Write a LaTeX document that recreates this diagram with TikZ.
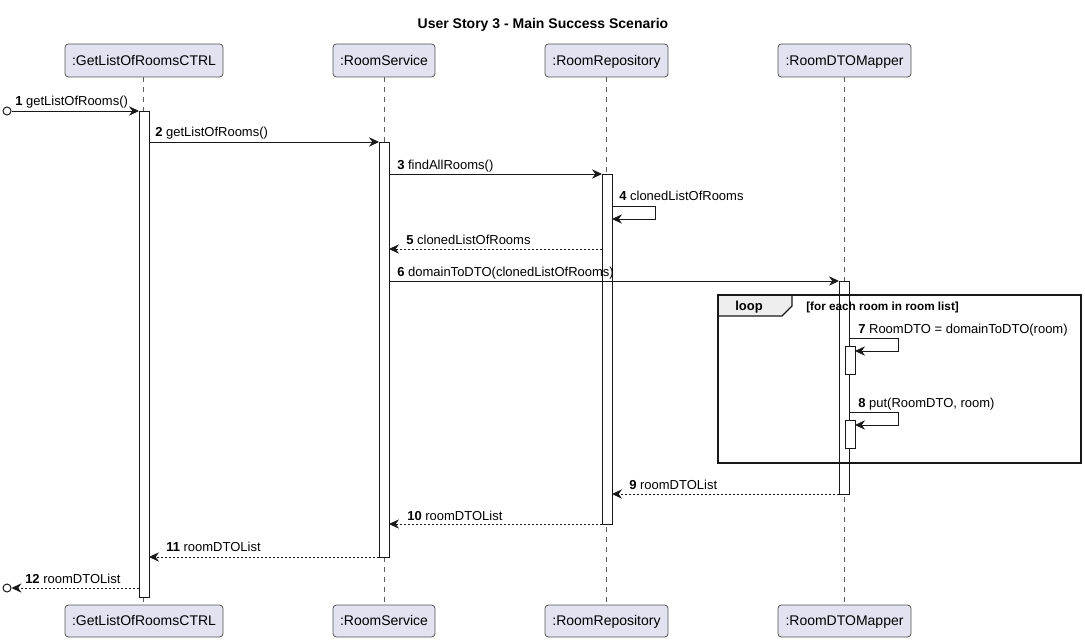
\documentclass[tikz,border=0pt]{standalone}
\usepackage{fontspec}
\setmainfont{Liberation Sans}
\usetikzlibrary{arrows.meta,fit,calc}
\definecolor{partfill}{HTML}{E2E2F0}
\definecolor{linec}{HTML}{181818}
\definecolor{tabfill}{HTML}{EEEEEE}
\begin{document}
\begin{tikzpicture}[x=0.75pt,y=-0.75pt,
 part/.style={draw=linec!75, fill=partfill, rounded corners=2.5pt, inner sep=0, line width=0.6pt, font=\fontsize{10.5}{12}\selectfont, minimum height=24.75pt, text depth=0.5pt},
 life/.style={draw=linec!70, dash pattern=on 3.75pt off 3.75pt, line width=0.5pt},
 act/.style={draw=linec, fill=white, inner sep=0, outer sep=0, line width=0.75pt},
 msg/.style={draw=linec, line width=0.75pt, -{Stealth[length=7.5pt,width=7pt,inset=2.5pt]}},
 ret/.style={msg, dash pattern=on 1.5pt off 1.5pt},
 lbl/.style={anchor=base west, inner sep=0, font=\fontsize{9.75}{11}\selectfont},
 endc/.style={circle, draw=linec, inner sep=0, minimum size=6pt, line width=0.75pt, fill=white},
]
\useasboundingbox (0,0) rectangle (1085,642);

\node[font=\bfseries\fontsize{10.5}{12}\selectfont] (title) at (543,24.5) {User Story 3 - Main Success Scenario};

% participants
\node[part, minimum width=118.5pt] (p1t) at (144,60.5) {:GetListOfRoomsCTRL};
\node[part, minimum width=76.5pt] (p2t) at (384,60.5) {:RoomService};
\node[part, minimum width=92.25pt] (p3t) at (606.5,60.5) {:RoomRepository};
\node[part, minimum width=99.75pt] (p4t) at (844.5,60.5) {:RoomDTOMapper};
\node[part, minimum width=118.5pt, minimum height=24pt] (p1b) at (144,621) {:GetListOfRoomsCTRL};
\node[part, minimum width=76.5pt, minimum height=24pt] (p2b) at (384,621) {:RoomService};
\node[part, minimum width=92.25pt, minimum height=24pt] (p3b) at (606.5,621) {:RoomRepository};
\node[part, minimum width=99.75pt, minimum height=24pt] (p4b) at (844.5,621) {:RoomDTOMapper};

\draw[life] (p1t.south -| 143,0) -- (p1b.north -| 143,0);
\draw[life] (p2t.south) -- (p2b.north);
\draw[life] (p3t.south) -- (p3b.north);
\draw[life] (p4t.south) -- (p4b.north);

% activations
\node[act, fit={(139,111) (149,597)}] (a1) {};
\node[act, fit={(379,142) (389,557)}] (a2) {};
\node[act, fit={(602,174) (612,524)}] (a3) {};
\node[act, fit={(839,281) (849,494)}] (a4) {};

% loop frame
\node[draw=linec, line width=1.3pt, fit={(718,295) (1081,463)}, inner sep=0, outer sep=0] (loop) {};
\draw[fill=tabfill, draw=linec, line width=0.9pt] (loop.north west) -- (792,295) -- (792,306) -- (782,316) -- (718,316) -- cycle;
\node[anchor=base west, inner sep=0, font=\bfseries\fontsize{9.75}{11}\selectfont] (looplbl) at (735,310) {loop};
\node[anchor=base west, inner sep=0, font=\bfseries\fontsize{8.8}{10}\selectfont] (loopcond) at (806,310) {[for each room in room list]};
\draw[draw=linec, line width=1.3pt] (loop.north west) rectangle (loop.south east);
\draw[draw=linec, line width=0.75pt] (a4.north west) rectangle (a4.south east);

\node[act, fit={(845,346) (855,374)}] (a5) {};
\node[act, fit={(845,420) (855,448)}] (a6) {};

% endpoints
\node[endc] (c1) at (7,111) {};
\node[endc] (c2) at (7,588) {};

% messages
\draw[msg] (c1.east) -- (a1.west |- c1);
\node[lbl] (l1) at (15,105) {\textbf{1} getListOfRooms()};

\draw[msg] (a1.east |- a2.north west) -- (a2.north west);
\node[lbl] (l2) at (155,137) {\textbf{2} getListOfRooms()};

\draw[msg] (a2.east |- a3.north west) -- (a3.north west);
\node[lbl] (l3) at (397,169) {\textbf{3} findAllRooms()};

\draw[msg] (a3.east |- 0,206) -- (655,206) -- (655,219) -- (a3.east |- 0,219);
\node[lbl] (l4) at (619,200) {\textbf{4} clonedListOfRooms};

\draw[ret] (a3.west |- 0,249) -- (a2.east |- 0,249);
\node[lbl] (l5) at (406,244) {\textbf{5} clonedListOfRooms};

\draw[msg] (a2.east |- a4.north west) -- (a4.north west);
\node[lbl] (l6) at (397,276) {\textbf{6} domainToDTO(clonedListOfRooms)};

\draw[msg] (a4.east |- 0,338) -- (898,338) -- (898,351) -- (a5.east |- 0,351);
\node[lbl] (l7) at (858,333) {\textbf{7} RoomDTO = domainToDTO(room)};

\draw[msg] (a4.east |- 0,412) -- (898,412) -- (898,425) -- (a6.east |- 0,425);
\node[lbl] (l8) at (858,407) {\textbf{8} put(RoomDTO, room)};

\draw[ret] (a4.south west) -- (a3.east |- a4.south west);
\node[lbl] (l9) at (629,489) {\textbf{9} roomDTOList};

\draw[ret] (a3.south west) -- (a2.east |- a3.south west);
\node[lbl] (l10) at (407,520) {\textbf{10} roomDTOList};

\draw[ret] (a2.south west) -- (a1.east |- a2.south west);
\node[lbl] (l11) at (166,551) {\textbf{11} roomDTOList};

\draw[ret] (a1.west |- c2) -- (c2.east);
\node[lbl] (l12) at (25,583) {\textbf{12} roomDTOList};
\end{tikzpicture}
\end{document}
